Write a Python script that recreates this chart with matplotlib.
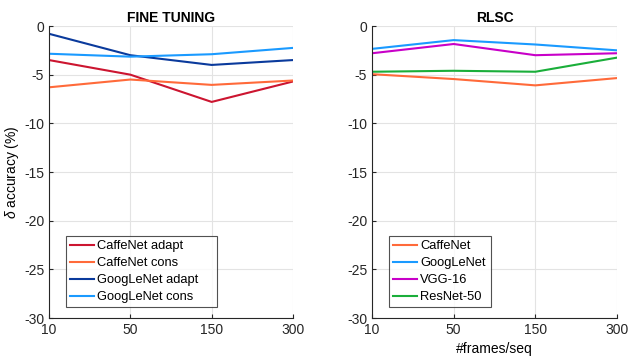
import matplotlib
matplotlib.use("Agg")
import matplotlib.pyplot as plt

plt.rcParams['font.family'] = ['Liberation Sans', 'DejaVu Sans']
plt.rcParams['mathtext.fontset'] = 'custom'
plt.rcParams['mathtext.it'] = 'Liberation Sans:italic'
plt.rcParams['mathtext.rm'] = 'Liberation Sans'

frames = ['10', '50', '150', '300']

# Fine tuning
caffe_adapt = [-3.5, -5.0, -7.8, -5.7]
caffe_cons = [-6.3, -5.5, -6.05, -5.6]
goog_adapt = [-0.8, -3.0, -4.0, -3.5]
goog_cons = [-2.85, -3.15, -2.9, -2.25]

# RLSC
r_caffe = [-4.95, -5.45, -6.1, -5.35]
r_goog = [-2.35, -1.45, -1.9, -2.5]
r_vgg = [-2.8, -1.85, -3.0, -2.8]
r_resnet = [-4.7, -4.6, -4.7, -3.25]

yticks = [0, -5, -10, -15, -20, -25, -30]

C_RED = '#cc1530'
C_ORANGE = '#ff6a3a'
C_DBLUE = '#0a3a9c'
C_LBLUE = '#1a9aff'
C_MAG = '#c800c8'
C_GREEN = '#1aae3a'

fig = plt.figure(figsize=(6.28, 3.62), dpi=100)
ax1 = fig.add_axes([49/628, 1-318/362, 244/628, 292/362])
ax2 = fig.add_axes([372/628, 1-318/362, 245/628, 292/362])

x = list(range(len(frames)))

def style(ax, title):
    ax.set_xlim(0, len(frames)-1)
    ax.set_ylim(-30, 0)
    ax.set_xticks(x)
    ax.set_xticklabels(frames)
    ax.set_yticks(yticks)
    ax.set_yticklabels([str(v) for v in yticks])
    ax.grid(True, color='#e3e3e3', linewidth=0.8)
    ax.set_axisbelow(True)
    for s in ['top', 'right']:
        ax.spines[s].set_visible(False)
    for s in ['left', 'bottom']:
        ax.spines[s].set_color('#262626')
        ax.spines[s].set_linewidth(0.8)
    ax.tick_params(direction='in', length=3, labelsize=10, colors='#262626', width=0.8)
    ax.set_title(title, fontsize=10, fontweight='bold', pad=3)

lw = 1.5
ax1.plot(x, caffe_adapt, color=C_RED, lw=lw, label='CaffeNet adapt')
ax1.plot(x, caffe_cons, color=C_ORANGE, lw=lw, label='CaffeNet cons')
ax1.plot(x, goog_adapt, color=C_DBLUE, lw=lw, label='GoogLeNet adapt')
ax1.plot(x, goog_cons, color=C_LBLUE, lw=lw, label='GoogLeNet cons')
style(ax1, 'FINE TUNING')
ax1.set_ylabel(r'$\mathit{\delta}$ accuracy (%)', fontsize=10, labelpad=2)

ax2.plot(x, r_caffe, color=C_ORANGE, lw=lw, label='CaffeNet')
ax2.plot(x, r_goog, color=C_LBLUE, lw=lw, label='GoogLeNet')
ax2.plot(x, r_vgg, color=C_MAG, lw=lw, label='VGG-16')
ax2.plot(x, r_resnet, color=C_GREEN, lw=lw, label='ResNet-50')
style(ax2, 'RLSC')
ax2.set_xlabel('#frames/seq', fontsize=10, labelpad=4)

for ax, w, lw_box in ((ax1, 244, 151), (ax2, 245, 102)):
    leg = ax.legend(loc='lower left', bbox_to_anchor=(17/w, 11/292, lw_box/w, 0.25),
                    mode='expand', fontsize=9.3,
                    frameon=True, fancybox=False, edgecolor='#262626',
                    handlelength=1.85, handletextpad=0.25, borderpad=0.3,
                    labelspacing=0.38, borderaxespad=0.0)
    leg.get_frame().set_linewidth(0.8)

fig.savefig('out.png', dpi=100)
